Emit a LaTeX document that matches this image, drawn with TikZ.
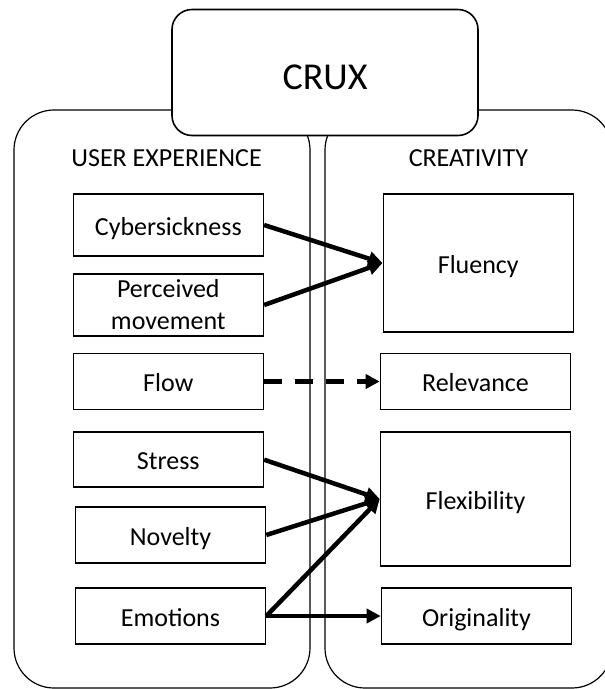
\documentclass[tikz,border=0pt]{standalone}
\usepackage{fontspec}
\setmainfont{Carlito}
\usetikzlibrary{arrows.meta}
\begin{document}
\begin{tikzpicture}[x=1pt,y=-1pt,
  panel/.style={draw,line width=1.2pt,rounded corners=40pt},
  box/.style={draw,line width=1.6pt,minimum width=190pt,inner sep=0pt,align=center,font=\fontsize{26}{32}\selectfont},
  item/.style={box,text height=20pt,text depth=0pt},
  link/.style={line width=4.5pt,-{Triangle[length=14pt,width=14pt]}}]
  \useasboundingbox (0,0) rectangle (605,689);
  \draw[panel] (14,110) rectangle (310,688);
  \draw[panel] (325,110) rectangle (612,688);
  \node[draw,fill=white,line width=1.6pt,rounded corners=20pt,minimum width=306pt,minimum height=126pt,
    text height=34pt,font=\fontsize{38}{40}\selectfont] (crux) at (325,72.5) {CRUX};
  \node[font=\fontsize{26}{28}\selectfont] (ux) at (166.6,158) {USER EXPERIENCE};
  \node[font=\fontsize{26}{28}\selectfont] (cre) at (468.4,158) {CREATIVITY};

  % user experience
  \node[item,minimum height=62pt] (cyber) at (168.3,225) {Cybersickness};
  \node[box,minimum height=62pt] (perc) at (168.3,305) {Perceived\\movement};
  \node[item,minimum height=56pt] (flow) at (168.3,381.5) {Flow};
  \node[item,minimum height=55pt] (stress) at (168.3,459.7) {Stress};
  \node[item,minimum height=56pt] (novel) at (170.5,535) {Novelty};
  \node[item,minimum height=56pt] (emo) at (170.5,616) {Emotions};

  % creativity
  \node[item,minimum height=138pt] (flu) at (478.3,263) {Fluency};
  \node[item,minimum height=56pt] (rel) at (475.5,381.5) {Relevance};
  \node[item,minimum height=134pt] (flex) at (475.5,499) {Flexibility};
  \node[item,minimum height=56pt] (orig) at (476.5,616) {Originality};

  \foreach \a/\b in {cyber/flu,perc/flu,stress/flex,novel/flex,emo/flex,emo/orig}
    \draw[link] (\a.east) -- (\b.west);
  \draw[link,dash pattern=on 18pt off 13pt] (flow.east) -- (rel.west);
\end{tikzpicture}
\end{document}
